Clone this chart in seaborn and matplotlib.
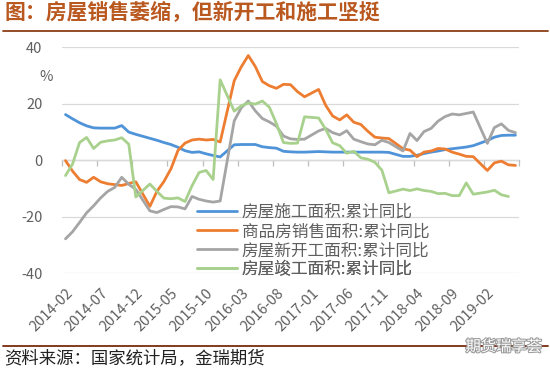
import numpy as np
import pandas as pd
import matplotlib
matplotlib.use('Agg')
import matplotlib.pyplot as plt
import matplotlib.patheffects as pe
import seaborn as sns

nan = np.nan

# 月份（1月份无单独数据，保留空值）
months = pd.period_range('2014-02', '2019-06', freq='M').strftime('%Y-%m').tolist()

shigong = [16.2, 14.7, 13.3, 12.2, 11.5, 11.4, 11.4, 11.4, 12.3, 10.0, 9.2, nan,
           7.8, 7.1, 6.3, 5.6, 4.6, 3.4, 2.8, 3.0, 2.3, 1.7, 1.2, nan,
           5.5, 5.6, 5.6, 5.6, 4.8, 4.5, 4.3, 3.2, 3.0, 2.9, 2.9, nan,
           3.1, 3.0, 2.9, 2.9, 2.9, 2.9, 2.9, 2.9, 2.9, 2.9, 2.8, nan,
           1.4, 1.4, 1.8, 2.4, 2.9, 3.3, 3.8, 4.1, 4.4, 4.7, 5.2, nan,
           7.0, 8.2, 8.8, 8.9, 8.9]
xiaoshou = [-0.1, -3.8, -6.8, -7.8, -6.0, -7.6, -8.3, -8.6, -8.9, -8.2, -7.6, nan,
            -16.3, -11.0, -7.5, -3.0, 3.5, 6.1, 7.2, 7.5, 7.2, 7.4, 6.5, nan,
            28.2, 33.1, 37.1, 33.2, 27.9, 26.4, 25.5, 26.9, 26.8, 24.3, 22.5, nan,
            25.1, 19.5, 15.7, 14.3, 16.1, 13.5, 12.7, 10.3, 8.2, 7.9, 7.7, nan,
            4.1, 3.6, 1.3, 2.9, 3.3, 4.2, 4.0, 2.9, 2.2, 1.4, 1.3, nan,
            -3.6, -0.9, -0.3, -1.6, -1.8]
xinkaigong = [-27.8, -25.3, -22.0, -18.6, -16.1, -13.3, -11.0, -9.6, -6.0, -8.5, -10.3, nan,
              -17.9, -18.5, -17.4, -16.4, -16.5, -17.2, -12.8, -13.8, -14.4, -14.8, -14.4, nan,
              14.0, 18.6, 21.0, 17.5, 14.8, 13.6, 12.1, 8.6, 7.6, 7.4, 7.5, nan,
              10.4, 11.3, 9.8, 9.0, 10.5, 7.5, 6.6, 5.8, 5.5, 7.1, 6.3, nan,
              3.3, 9.5, 7.0, 10.2, 11.3, 13.9, 15.5, 16.4, 16.1, 16.6, 17.1, nan,
              6.0, 11.6, 12.9, 10.6, 9.8]
jungong = [-5.4, -1.3, 6.3, 8.1, 4.2, 6.4, 6.9, 7.2, 8.0, 5.7, -13.0, nan,
           -8.4, -11.0, -13.4, -13.6, -13.3, -14.6, -9.0, -4.3, -3.6, -6.8, 28.5, nan,
           17.4, 19.3, 20.3, 19.9, 21.0, 18.8, 13.0, 6.3, 6.0, 6.1, 15.4, nan,
           15.0, 11.0, 6.2, 5.2, 2.5, 3.2, 0.9, 0.4, -0.7, -3.5, -11.5, nan,
           -10.2, -10.7, -10.1, -10.7, -11.0, -11.8, -11.7, -12.5, -12.5, -8.0, -12.0, nan,
           -11.2, -10.6, -12.2, -12.8, nan]

names = ['房屋施工面积:累计同比', '商品房销售面积:累计同比',
         '房屋新开工面积:累计同比', '房屋竣工面积:累计同比']
colors = ['#4f93d8', '#ed7d31', '#a5a5a5', '#a9d18e']

df = pd.DataFrame({'idx': range(len(months)), names[0]: shigong, names[1]: xiaoshou,
                   names[2]: xinkaigong, names[3]: jungong})
long = df.melt(id_vars='idx', var_name='series', value_name='value').dropna()

sns.set_theme(style='white')
plt.rcParams['font.family'] = ['Noto Sans CJK SC', 'DejaVu Sans']

fig = plt.figure(figsize=(5.5, 3.7), dpi=100)
ax = fig.add_axes([0.1127, 0.2614, 0.8309, 0.6106])

sns.lineplot(data=long, x='idx', y='value', hue='series', hue_order=names,
             palette=colors, linewidth=2.0, ax=ax)

ax.set_xlim(-0.5, len(months) - 0.5)
ax.set_ylim(-40, 40)
ax.set_yticks([-40, -20, 0, 20, 40])
ax.set_yticklabels(['-40', '-20', '0', '20', '40'])
ax.set_xticks(range(0, len(months), 5))
ax.set_xticklabels(months[::5], rotation=45, ha='right', va='top', rotation_mode='anchor')
ax.tick_params(axis='both', length=0, labelsize=10.5, labelcolor='#5f5f5f')
ax.tick_params(axis='x', pad=9)
ax.tick_params(axis='y', pad=14)
ax.set_xlabel('')
ax.set_ylabel('')
for s in ax.spines.values():
    s.set_visible(False)
ax.yaxis.grid(True, color='#d9d9d9', linewidth=0.9)
ax.set_axisbelow(True)

# 零轴和刻度线
sec = ax.secondary_xaxis(0.5)
sec.set_alignment('bottom')
sec.set_xticks(np.arange(-0.5, len(months), 5))
sec.tick_params(axis='x', length=4, color='#bfbfbf', width=0.9, direction='out',
                labelbottom=False, labeltop=False)
sec.spines['bottom'].set_color('#bfbfbf')
sec.spines['bottom'].set_linewidth(0.9)

ax.text(-0.035, 0.87, '%', transform=ax.transAxes, fontsize=10.5, color='#5f5f5f',
        ha='center', va='center')

# 图例：逐行放置，行距比默认更紧
old = ax.get_legend()
handles = old.legend_handles
labels = [t.get_text() for t in old.get_texts()]
old.remove()
row_y = [0.270, 0.184, 0.100, 0.016]
for h, l, yk in zip(handles, labels, row_y):
    lg = ax.legend([h], [l], loc='center left', bbox_to_anchor=(0.295, yk), frameon=False,
                   fontsize=12, handlelength=2.4, handletextpad=0.3,
                   borderpad=0, borderaxespad=0)
    lg.get_texts()[0].set_color('#5f5f5f')
    ax.add_artist(lg)

# 标题和来源
fig.text(0.008, 0.966, '图：房屋销售萎缩，但新开工和施工坚挺', fontsize=15, fontweight='bold',
         color='#b9581f', ha='left', va='center')
fig.add_artist(plt.Line2D([0.006, 0.996], [0.916, 0.916], color='#8b3e16', linewidth=1.3))
fig.add_artist(plt.Line2D([0.006, 0.996], [0.066, 0.066], color='#7a2a10', linewidth=1.3))
fig.text(0.008, 0.033, '资料来源：国家统计局，金瑞期货', fontsize=12.5, color='#222222',
         ha='left', va='center')
fig.text(0.985, 0.063, '期货瑞享荟', fontsize=11, color='white', ha='right', va='center',
         path_effects=[pe.withStroke(linewidth=1.5, foreground='#9a9a9a')])

plt.savefig('out.png', dpi=100)
